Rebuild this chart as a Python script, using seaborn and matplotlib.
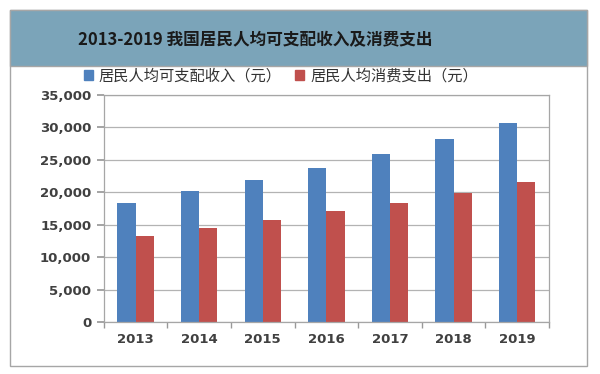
import matplotlib
matplotlib.use("Agg")
import matplotlib.pyplot as plt
import matplotlib.patches as mpatches
from matplotlib.ticker import FuncFormatter, FixedLocator
import pandas as pd
import seaborn as sns

# Données
years = ["2013", "2014", "2015", "2016", "2017", "2018", "2019"]
income = [18311, 20167, 21966, 23821, 25974, 28228, 30733]
consumption = [13220, 14491, 15712, 17111, 18322, 19853, 21559]
series_names = ["居民人均可支配收入（元）", "居民人均消费支出（元）"]
title_text = "2013-2019 我国居民人均可支配收入及消费支出"

df = pd.DataFrame({"year": years * 2,
                   "value": income + consumption,
                   "series": [series_names[0]] * len(years) + [series_names[1]] * len(years)})

sns.set_theme(style="white")
plt.rcParams["font.family"] = ["Noto Sans CJK SC", "DejaVu Sans"]

fig = plt.figure(figsize=(6, 3.74), dpi=100)
ax = fig.add_axes([0.173, 0.139, 0.742, 0.607])

sns.barplot(data=df, x="year", y="value", hue="series", ax=ax,
            palette=["#4f81bd", "#c0504d"], width=0.57, saturation=1,
            edgecolor="none", legend=False)

# Cadre extérieur et bandeau de titre
fig.patches.append(mpatches.Rectangle((10 / 600, 1 - 366 / 374), 577 / 600, 356 / 374,
                                      transform=fig.transFigure, facecolor="none",
                                      edgecolor="#a6a6a6", lw=1.0, zorder=0))
fig.patches.append(mpatches.Rectangle((10 / 600, 1 - 66 / 374), 577 / 600, 56 / 374,
                                      transform=fig.transFigure, facecolor="#7ba4b9",
                                      edgecolor="#a6a6a6", lw=1.0, zorder=0))
fig.text(0.425, 1 - 40 / 374, title_text, ha="center", va="center",
         fontsize=12, fontweight="bold", color="#1a1a1a")

ax.set_ylim(0, 35000)
ax.set_yticks(range(0, 35001, 5000))
ax.yaxis.set_major_formatter(FuncFormatter(lambda v, p: f"{int(v):,}"))
ax.set_xlim(-0.5, len(years) - 0.5)
ax.xaxis.set_minor_locator(FixedLocator([i - 0.5 for i in range(len(years) + 1)]))
ax.tick_params(axis="x", which="major", length=0, pad=8)
ax.tick_params(axis="x", which="minor", length=4, color="#999999", direction="out", bottom=True)
ax.tick_params(axis="y", length=5, color="#999999", direction="out", left=True, pad=4)
for lab in ax.get_xticklabels() + ax.get_yticklabels():
    lab.set_fontsize(9.5)
    lab.set_fontweight("bold")
    lab.set_color("#404040")
    lab.set_family(["DejaVu Sans"])
ax.set_xlabel("")
ax.set_ylabel("")
ax.grid(axis="y", color="#b3b3b3", lw=0.9)
ax.set_axisbelow(True)
for s in ax.spines.values():
    s.set_color("#a6a6a6")
    s.set_linewidth(0.9)

handles = [mpatches.Patch(color=c) for c in ["#4f81bd", "#c0504d"]]
fig.legend(handles, series_names, loc="center", bbox_to_anchor=(0.4683, 1 - 76 / 374),
           ncol=2, frameon=False, fontsize=11, handlelength=0.55, handleheight=0.55,
           handletextpad=0.4, columnspacing=0.9, labelcolor="#333333",
           borderpad=0, borderaxespad=0)

fig.savefig("out.png", dpi=100)
